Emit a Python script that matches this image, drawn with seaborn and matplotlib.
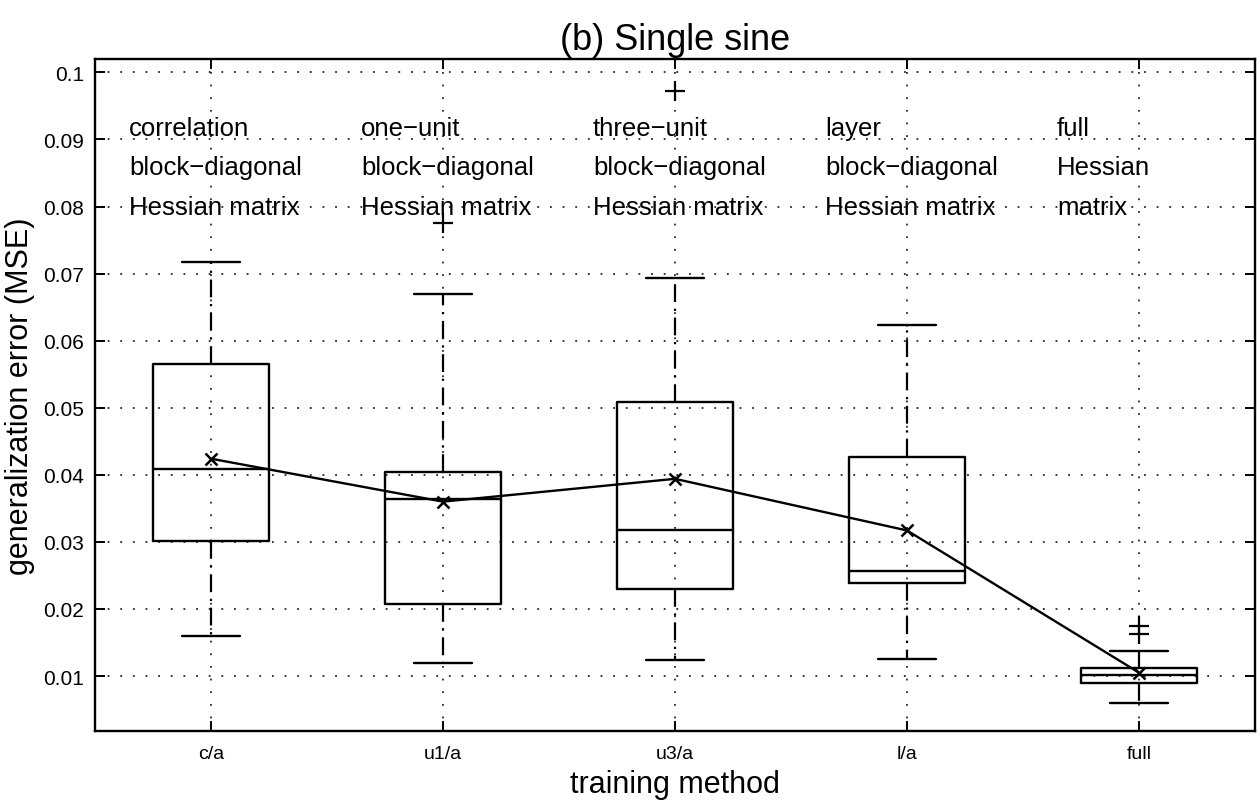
import numpy as np
import matplotlib
matplotlib.use('Agg')
import matplotlib.pyplot as plt
import seaborn as sns

# Box statistics (generalization error, MSE)
methods = ['c/a', 'u1/a', 'u3/a', 'l/a', 'full']
whisker_low = [0.0160, 0.0120, 0.0124, 0.0125, 0.0060]
q1 = [0.0302, 0.0207, 0.0230, 0.0238, 0.0090]
median = [0.0409, 0.0364, 0.0317, 0.0256, 0.0101]
q3 = [0.0565, 0.0404, 0.0508, 0.0427, 0.0112]
whisker_high = [0.0718, 0.0670, 0.0693, 0.0623, 0.0138]
mean = [0.0424, 0.0360, 0.0394, 0.0317, 0.0105]

# Outliers (+)
outlier_method = ['u1/a', 'u3/a', 'full', 'full']
outlier_value = [0.0776, 0.0973, 0.0174, 0.0163]

# Text drawn above each box
line1 = ['correlation', 'one\u2212unit', 'three\u2212unit', 'layer', 'full']
line2 = ['block\u2212diagonal'] * 4 + ['Hessian']
line3 = ['Hessian matrix'] * 4 + ['matrix']

sns.set_style('ticks')
plt.rcParams['font.family'] = ['Liberation Sans', 'DejaVu Sans']
plt.rcParams['text.color'] = 'k'
plt.rcParams['axes.labelcolor'] = 'k'
plt.rcParams['xtick.color'] = 'k'
plt.rcParams['ytick.color'] = 'k'

fig = plt.figure(figsize=(12.6, 8.03), dpi=100)
ax = fig.add_axes([95 / 1260, 1 - 732 / 803, 1160 / 1260, 672 / 803])

pos = np.arange(1, len(methods) + 1)

# grid first so it sits under everything
ax.set_axisbelow(True)
ax.grid(True, linestyle=(0, (1, 6)), color='0.15', linewidth=1.3)

stats = []
for i, m in enumerate(methods):
    stats.append(dict(label=m, whislo=whisker_low[i], q1=q1[i], med=median[i],
                      q3=q3[i], whishi=whisker_high[i], fliers=[]))

line_kw = dict(color='k', linewidth=1.7)
ax.bxp(stats, positions=pos, widths=0.5, capwidths=0.25, showfliers=False,
       boxprops=line_kw, medianprops=line_kw, capprops=line_kw,
       whiskerprops=dict(color='k', linewidth=1.6, linestyle=(0, (8, 3, 1, 3))))

# mean markers joined by a line
sns.lineplot(x=pos, y=mean, color='k', linewidth=1.7, marker='x',
             markersize=9, markeredgewidth=1.8, markeredgecolor='k',
             ax=ax, zorder=4)

# outliers
out_x = [methods.index(m) + 1 for m in outlier_method]
sns.scatterplot(x=out_x, y=outlier_value, marker='+', s=200, color='k',
                linewidth=1.6, ax=ax, zorder=4)

for i in range(len(methods)):
    x0 = pos[i] - 0.354
    ax.text(x0, 0.0907, line1[i], fontsize=18.5, ha='left', va='baseline')
    ax.text(x0, 0.0848, line2[i], fontsize=18.5, ha='left', va='baseline')
    ax.text(x0, 0.0789, line3[i], fontsize=18.5, ha='left', va='baseline')

ax.set_xlim(0.5, 5.5)
ax.set_ylim(0.0018, 0.102)
ax.set_xticks(pos)
ax.set_xticklabels(methods)
ax.set_yticks(np.arange(0.01, 0.1001, 0.01))
ax.set_yticklabels(['%g' % round(v, 2) for v in np.arange(0.01, 0.1001, 0.01)])

ax.tick_params(direction='in', length=7, width=1.4, top=True, right=True)
ax.tick_params(axis='y', labelsize=15, pad=8)
ax.tick_params(axis='x', labelsize=14, pad=10)
for s in ax.spines.values():
    s.set_visible(True)
    s.set_linewidth(1.7)
    s.set_color('k')

ax.set_title('(b) Single sine', fontsize=26, pad=7)
ax.set_xlabel('training method', fontsize=22)
ax.set_ylabel('generalization error (MSE)', fontsize=22)
ax.xaxis.set_label_coords(0.5, -0.056)
ax.yaxis.set_label_coords(-0.052, 0.5)

fig.savefig('out.png', dpi=100)
